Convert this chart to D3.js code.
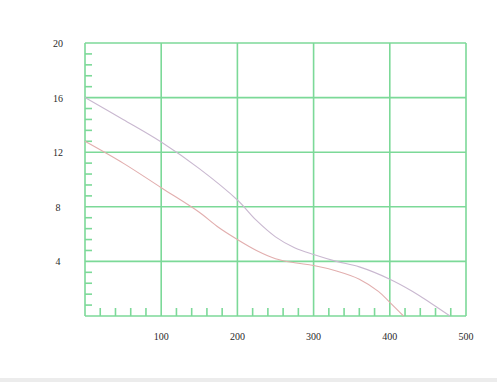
<!DOCTYPE html>
<html>
<head>
<meta charset="UTF-8">
<script src="https://cdn.jsdelivr.net/npm/d3@7"></script>
<style>
  body{margin:0;background:#fff;}
  svg{display:block;}
  text{font-family:"Liberation Serif","DejaVu Serif",serif;font-size:10px;fill:#2a2a2a;}
</style>
</head>
<body>
<div id="root"></div>
<script>
// curve data
let upperX = [0, 50, 100, 150, 200, 225, 250, 275, 300, 330, 360, 400, 430, 455, 479]
let upperY = [16, 14.4, 12.75, 10.8, 8.5, 7.0, 5.8, 5.0, 4.5, 4.0, 3.6, 2.7, 1.8, 0.9, 0]
let lowerX = [0, 50, 100, 150, 175, 200, 225, 250, 275, 300, 330, 360, 385, 400, 418]
let lowerY = [12.8, 11.2, 9.4, 7.6, 6.5, 5.6, 4.8, 4.2, 3.9, 3.7, 3.3, 2.7, 1.8, 1.0, 0]
let xTicks = [100, 200, 300, 400, 500]
let yTicks = [4, 8, 12, 16, 20]

let width = 497, height = 382
let plotLeft = 85, plotRight = 466, plotTop = 43, plotBottom = 316
let gridColor = "#7cd998"

let svg = d3.select("#root").append("svg").attr("width", width).attr("height", height)

let x = d3.scaleLinear().domain([0, 500]).range([plotLeft, plotRight])
let y = d3.scaleLinear().domain([0, 20]).range([plotBottom, plotTop])

// faint grey strip at the bottom of the screenshot
svg.append("rect").attr("x", 0).attr("y", 378).attr("width", width).attr("height", 4).attr("fill", "#ececec")

// minor ticks
let xMinor = d3.range(20, 500, 20).filter(d => d % 100 != 0)
let yMinor = d3.range(1, 25).map(d => d * 0.8).filter(d => Math.abs(d / 4 - Math.round(d / 4)) > 0.01)

svg.append("g").selectAll("line").data(xMinor).enter().append("line")
  .attr("x1", d => x(d)).attr("x2", d => x(d))
  .attr("y1", plotBottom).attr("y2", plotBottom - 8)
  .attr("stroke", gridColor).attr("stroke-width", 1.6)

svg.append("g").selectAll("line").data(yMinor).enter().append("line")
  .attr("x1", plotLeft).attr("x2", plotLeft + 7)
  .attr("y1", d => y(d)).attr("y2", d => y(d))
  .attr("stroke", gridColor).attr("stroke-width", 1.6)

// grid
svg.append("g").selectAll("line").data([0].concat(xTicks)).enter().append("line")
  .attr("x1", d => x(d)).attr("x2", d => x(d))
  .attr("y1", plotTop).attr("y2", plotBottom)
  .attr("stroke", gridColor).attr("stroke-width", 1.6)

svg.append("g").selectAll("line").data([0].concat(yTicks)).enter().append("line")
  .attr("x1", plotLeft).attr("x2", plotRight)
  .attr("y1", d => y(d)).attr("y2", d => y(d))
  .attr("stroke", gridColor).attr("stroke-width", 1.6)

// labels
svg.append("g").selectAll("text").data(xTicks).enter().append("text")
  .attr("x", d => x(d)).attr("y", plotBottom + 24)
  .attr("text-anchor", "middle").text(d => d)

svg.append("g").selectAll("text").data(yTicks).enter().append("text")
  .attr("x", 58).attr("y", d => y(d) + 4)
  .attr("text-anchor", "middle").text(d => d)

// curves
let line = d3.line().x(d => x(d[0])).y(d => y(d[1])).curve(d3.curveCatmullRom.alpha(0.5))

svg.append("path").datum(d3.zip(upperX, upperY))
  .attr("d", line).attr("fill", "none").attr("stroke", "#c9b8d0").attr("stroke-width", 1.1)

svg.append("path").datum(d3.zip(lowerX, lowerY))
  .attr("d", line).attr("fill", "none").attr("stroke", "#e2aeae").attr("stroke-width", 1.1)
</script>
</body>
</html>
